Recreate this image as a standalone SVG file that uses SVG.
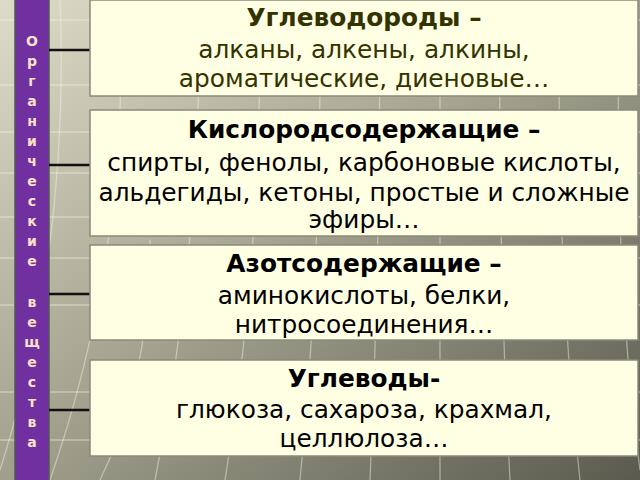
<svg xmlns="http://www.w3.org/2000/svg" width="640" height="480" viewBox="0 0 640 480">
<defs>
<linearGradient id="bg" x1="0" y1="0" x2="1" y2="1">
<stop offset="0" stop-color="#dcdcc8"/>
<stop offset="0.45" stop-color="#a6a692"/>
<stop offset="1" stop-color="#5a5a4e"/>
</linearGradient>
<style>
.box{fill:#ffffe3;stroke:#8a8a7a;stroke-width:1.5}
.conn{stroke:#111;stroke-width:2.5}
.grid{fill:none;stroke:#f4f4e4;stroke-opacity:0.45;stroke-width:1.3}
.t{font-family:"DejaVu Sans",sans-serif;font-size:24.8px;text-anchor:middle;fill:#000}
.b{font-weight:bold}
.olive{fill:#333300}
.v{font-family:"DejaVu Sans",sans-serif;font-size:14px;font-weight:bold;fill:#fae2c8;text-anchor:middle}
</style>
</defs>
<rect width="640" height="480" fill="url(#bg)"/>
<g id="grid">
<path class="grid" d="M0,20 H640 M0,85 H640 M0,132 H640 M0,173 H640 M0,217 H640 M0,258 H640 M0,305 H640 M0,392 H640 M0,440 H640"/>
<path class="grid" d="M60,0 Q70,250 0,470 M120,0 Q130,250 50,480 M150,240 Q150,380 100,480 M200,0 Q200,260 155,480 M260,0 Q262,260 225,480 M320,0 Q322,260 300,480 M380,0 Q380,260 370,480 M440,0 Q440,260 440,480 M500,0 Q498,260 510,480 M560,0 Q555,260 580,480 M620,0 Q612,260 640,470"/>
</g>
<g id="bar">
<rect x="15" y="-2" width="34" height="484" fill="#7030a0" stroke="#555" stroke-width="1.5"/>
<text class="v" x="32" y="46">О</text>
<text class="v" x="32" y="66">р</text>
<text class="v" x="32" y="86">г</text>
<text class="v" x="32" y="106">а</text>
<text class="v" x="32" y="126">н</text>
<text class="v" x="32" y="146">и</text>
<text class="v" x="32" y="166">ч</text>
<text class="v" x="32" y="186">е</text>
<text class="v" x="32" y="206">с</text>
<text class="v" x="32" y="226">к</text>
<text class="v" x="32" y="246">и</text>
<text class="v" x="32" y="266">е</text>
<text class="v" x="32" y="307">в</text>
<text class="v" x="32" y="327">е</text>
<text class="v" x="32" y="347">щ</text>
<text class="v" x="32" y="367">е</text>
<text class="v" x="32" y="387">с</text>
<text class="v" x="32" y="407">т</text>
<text class="v" x="32" y="427">в</text>
<text class="v" x="32" y="447">а</text>
</g>
<g id="connectors">
<line class="conn" x1="49" y1="50" x2="90" y2="50"/>
<line class="conn" x1="49" y1="165" x2="90" y2="165"/>
<line class="conn" x1="49" y1="294" x2="90" y2="294"/>
<line class="conn" x1="49" y1="410" x2="90" y2="410"/>
</g>
<g id="n1">
<rect class="box" x="90" y="0" width="548" height="96"/>
<text class="t b olive" x="364" y="26">Углеводороды –</text>
<text class="t olive" x="364" y="58">алканы, алкены, алкины,</text>
<text class="t olive" x="364" y="87">ароматические, диеновые…</text>
</g>
<g id="n2">
<rect class="box" x="90" y="110" width="548" height="126"/>
<text class="t b" x="364" y="138">Кислородсодержащие –</text>
<text class="t" x="364" y="171">спирты, фенолы, карбоновые кислоты,</text>
<text class="t" x="364" y="201">альдегиды, кетоны, простые и сложные</text>
<text class="t" x="364" y="228">эфиры…</text>
</g>
<g id="n3">
<rect class="box" x="90" y="245" width="548" height="95"/>
<text class="t b" x="364" y="272">Азотсодержащие –</text>
<text class="t" x="364" y="304">аминокислоты, белки,</text>
<text class="t" x="364" y="333">нитросоединения…</text>
</g>
<g id="n4">
<rect class="box" x="90" y="360" width="548" height="96"/>
<text class="t b" x="364" y="387">Углеводы-</text>
<text class="t" x="364" y="418">глюкоза, сахароза, крахмал,</text>
<text class="t" x="364" y="447">целлюлоза…</text>
</g>
</svg>
